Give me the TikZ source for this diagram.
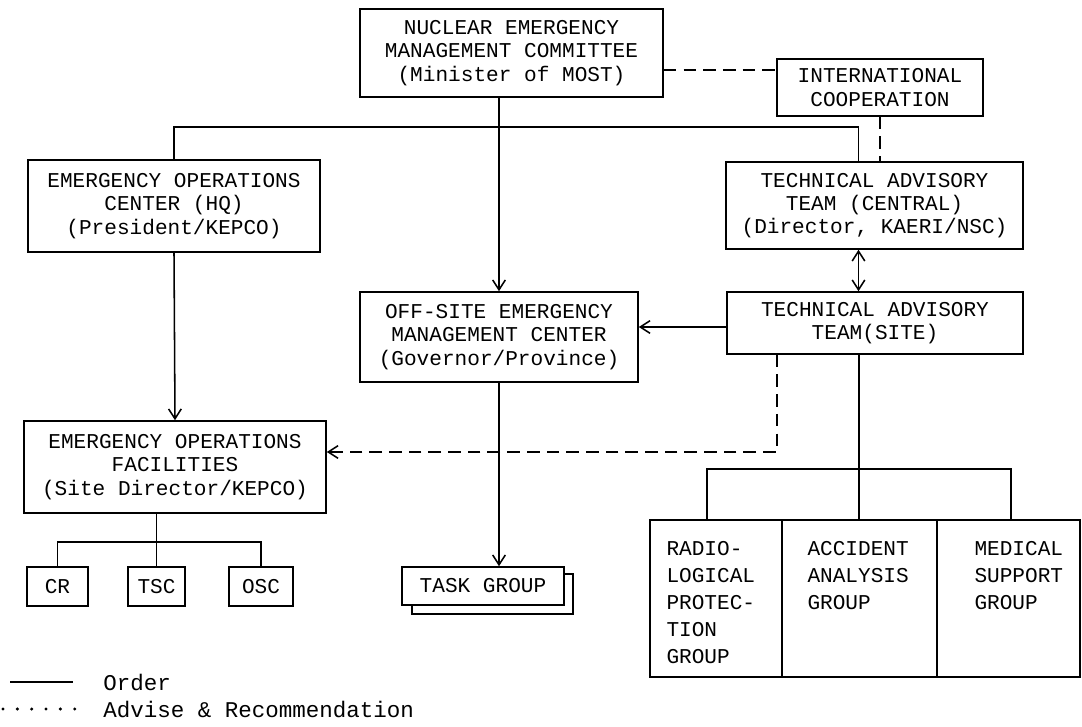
\documentclass[tikz,border=0pt]{standalone}
\usepackage{fontspec}
\newfontfamily\typewfont{Liberation Mono}
\usetikzlibrary{arrows.meta}

\tikzset{
    box/.style={draw, line width=1.1pt, align=center, inner sep=0pt,
        font=\typewfont\fontsize{15}{16.5}\selectfont},
    cell/.style={draw, line width=1.1pt, inner sep=0pt, minimum height=3.925cm},
    celltext/.style={anchor=north west, align=left, inner sep=0pt,
        font=\typewfont\fontsize{15}{19.2}\selectfont},
    order/.style={line width=1.1pt},
    advise/.style={line width=1.1pt, dash pattern=on 9pt off 5pt},
    tip/.style={-{Straight Barb[length=7pt,width=9pt,line width=1.1pt]}},
    legendtext/.style={anchor=west, inner sep=0pt, font=\typewfont\fontsize{16}{17}\selectfont}
}

\begin{document}
\begin{tikzpicture}[x=0.025cm, y=-0.025cm]

    \useasboundingbox (0,0) rectangle (1082,727);

    % 1. Main boxes
    \node[box, minimum width=7.575cm, minimum height=2.2cm] (nemc) at (511.5,53)
        {NUCLEAR EMERGENCY\\MANAGEMENT COMMITTEE\\(Minister of MOST)};
    \node[box, minimum width=5.15cm, minimum height=1.425cm] (intl) at (880,87.5)
        {INTERNATIONAL\\COOPERATION};
    \node[box, minimum width=7.3cm, minimum height=2.3cm] (eochq) at (174,206)
        {EMERGENCY OPERATIONS\\CENTER (HQ)\\(President/KEPCO)};
    \node[box, minimum width=7.425cm, minimum height=2.175cm] (tatcentral) at (874.5,205.5)
        {TECHNICAL ADVISORY\\TEAM (CENTRAL)\\(Director, KAERI/NSC)};
    \node[box, minimum width=7.4cm, minimum height=1.55cm] (tatsite) at (875,323)
        {TECHNICAL ADVISORY\\TEAM(SITE)};
    \node[box, minimum width=6.95cm, minimum height=2.25cm] (offsite) at (499,337)
        {OFF-SITE EMERGENCY\\MANAGEMENT CENTER\\(Governor/Province)};
    \node[box, minimum width=7.55cm, minimum height=2.3cm] (eof) at (175,467)
        {EMERGENCY OPERATIONS\\FACILITIES\\(Site Director/KEPCO)};
    \node[box, minimum width=4.05cm, minimum height=0.95cm] (task) at (483,586) {TASK GROUP};

    % 2. Facility boxes under the EOF
    \foreach \name/\x/\w in {CR/57.5/1.525cm, TSC/156.5/1.425cm, OSC/261/1.6cm} {
        \node[box, minimum width=\w, minimum height=0.975cm] (\name) at (\x,586.5) {\name};
    }

    % 3. Advisory groups (one box in three cells)
    \node[cell, minimum width=3.3cm] (radio) at (716,598.5) {};
    \node[cell, minimum width=3.875cm] (accident) at (859.5,598.5) {};
    \node[cell, minimum width=3.575cm] (medical) at (1008.5,598.5) {};
    \node[celltext] (radiotxt) at ([shift={(0.425cm,-0.55cm)}]radio.north west)
        {RADIO-\\LOGICAL\\PROTEC-\\TION\\GROUP};
    \node[celltext] (accidenttxt) at ([shift={(0.65cm,-0.55cm)}]accident.north west)
        {ACCIDENT\\ANALYSIS\\GROUP};
    \node[celltext] (medicaltxt) at ([shift={(0.95cm,-0.55cm)}]medical.north west)
        {MEDICAL\\SUPPORT\\GROUP};

    % 4. Order lines
    \draw[order] (eochq.north) -- ++(0,-32) -| ([xshift=-0.4cm]tatcentral.north);
    \draw[order, tip] (offsite.north |- nemc.south) -- (offsite.north);
    \draw[order, tip] (eochq.south) -- (eof.north);
    \draw[order, tip] ([yshift=-0.1cm]tatsite.west) -- ([yshift=-0.1cm]tatsite.west -| offsite.east);
    \draw[order, tip] (offsite.south) -- (offsite.south |- task.north);
    \draw[order, {Straight Barb[length=7pt,width=9pt,line width=1.1pt]}-{Straight Barb[length=7pt,width=9pt,line width=1.1pt]}]
        ([xshift=-0.4cm]tatcentral.south) -- ([xshift=-0.4cm]tatcentral.south |- tatsite.north);

    % task group drawn as a stack
    \draw[order] ([xshift=0.275cm]task.south west) |- ([shift={(0.2cm,-0.2cm)}]task.south east)
        |- ([yshift=-0.2cm]task.north east);

    % EOF to CR / TSC / OSC
    \draw[order] (eof.south -| TSC.north) -- (TSC.north);
    \draw[order] (CR.north) -- ++(0,-24) -| (OSC.north);

    % site team to the groups
    \coordinate (barleft) at ([xshift=-0.225cm]radio.north);
    \coordinate (barright) at ([xshift=-1.75cm]medical.north east);
    \draw[order] ([xshift=-0.4cm]tatsite.south) -- ([xshift=-0.4cm]tatsite.south |- accident.north);
    \draw[order] (barleft) -- ++(0,-50) -| (barright);

    % 5. Advise lines
    \draw[advise] ([yshift=-0.425cm]nemc.east) -- ([yshift=-0.425cm]nemc.east -| intl.west);
    \draw[advise] (intl.south) -- (intl.south |- tatcentral.north);
    \draw[advise, tip] ([xshift=-2.45cm]tatsite.south) |- ([yshift=0.375cm]eof.east);

    % 6. Legend
    \node[legendtext] (ordertxt) at (103,682) {Order};
    \node[legendtext] (advisetxt) at (103,709) {Advise \& Recommendation};
    \draw[order] (10,682) -- (73,682);
    \draw[line width=2.4pt, line cap=round, dash pattern=on 0pt off 10.2pt] (3,709) -- (78,709);

\end{tikzpicture}
\end{document}
